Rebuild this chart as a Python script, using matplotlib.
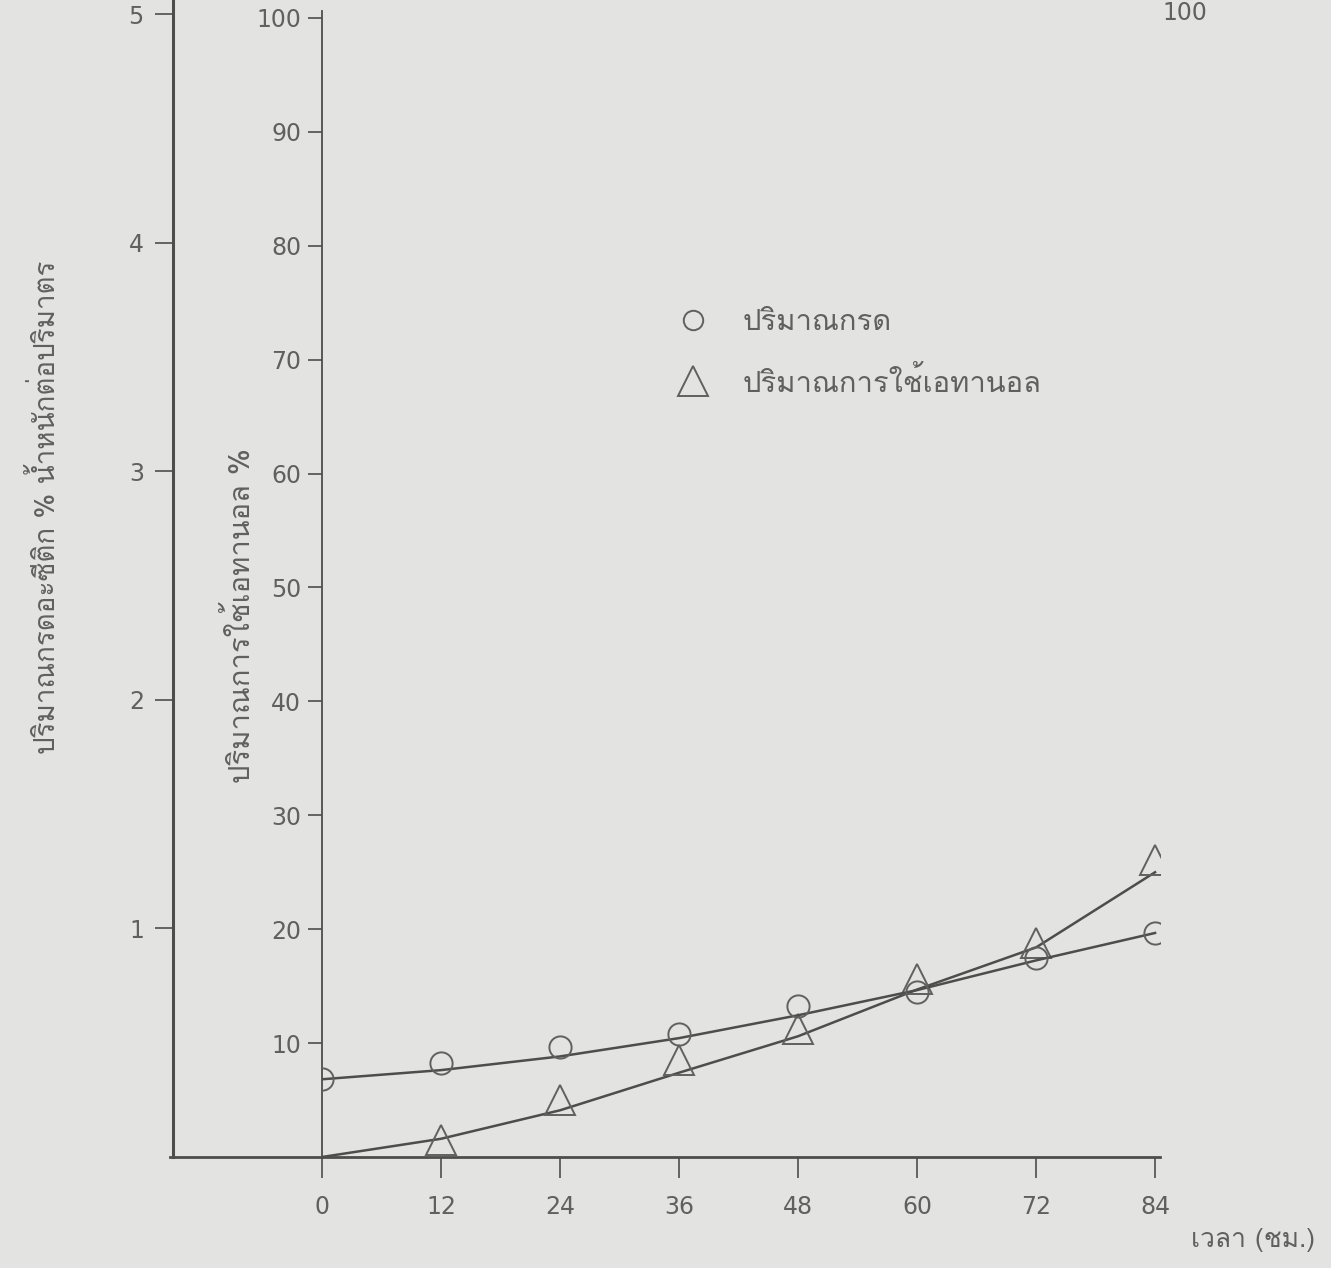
import matplotlib
matplotlib.use("Agg")
import matplotlib.pyplot as plt
from matplotlib import font_manager as fm
from matplotlib.ft2font import FT2Font
from matplotlib.lines import Line2D

# data
hours = [0, 12, 24, 36, 48, 60, 72, 84]
acid = [0.34, 0.41, 0.48, 0.54, 0.66, 0.72, 0.87, 0.98]          # % w/v
acid_fit = [0.34, 0.38, 0.44, 0.52, 0.62, 0.73, 0.86, 0.98]
eth_hours = [12, 24, 36, 48, 60, 72, 84]
ethanol = [1.5, 5.0, 8.5, 11.2, 15.6, 18.8, 26.1]                # %
ethanol_fit = [0.0, 1.6, 4.1, 7.4, 10.6, 14.7, 18.4, 25.0]

acid_ticks = [1, 2, 3, 4, 5]
eth_ticks = [10, 20, 30, 40, 50, 60, 70, 80, 90, 100]

PAPER = "#e3e3e1"
INK = "#4d4d4d"
TEXT = "#606060"


def thai_font():
    prefer = ["Tlwg Typewriter", "Loma", "Norasi", "Garuda", "Kinnari",
              "Noto Sans Thai", "Noto Serif Thai", "Sarabun"]
    found = []
    for f in fm.fontManager.ttflist:
        try:
            if 0x0E01 in FT2Font(f.fname).get_charmap():
                found.append(f.name)
        except Exception:
            pass
    for p in prefer:
        if p in found:
            return p
    return found[0] if found else "DejaVu Sans"


THAI = thai_font()

fig = plt.figure(figsize=(13.31, 12.68), dpi=100)
fig.patch.set_facecolor(PAPER)

W, H = 1331, 1268
ax = fig.add_axes([322 / W, 1 - 1157 / H, (1160 - 322) / W, (1157 - 11) / H])
ax.patch.set_alpha(0)
ax.set_xlim(0, 84.5)
ax.set_ylim(0, 100 * (1157 - 11) / (1157 - 18))

for s in ("top", "right"):
    ax.spines[s].set_visible(False)
ax.spines["left"].set_color(INK)
ax.spines["left"].set_linewidth(1.3)
ax.spines["bottom"].set_color(INK)
ax.spines["bottom"].set_linewidth(2.0)

ax.set_xticks(hours)
ax.set_yticks(eth_ticks)
ax.tick_params(axis="x", direction="out", length=15, width=1.2, pad=12,
               colors=INK, labelcolor=TEXT, labelsize=17)
ax.tick_params(axis="y", direction="out", length=10, width=1.2, pad=5,
               colors=INK, labelcolor=TEXT, labelsize=17)

# extend x axis line left to the outer axis
ax.add_line(Line2D([-(322 - 170) / 838, 0], [0, 0], transform=ax.transAxes,
                   color=INK, lw=2.0, clip_on=False))

# outer acid axis
ax2 = ax.twinx()
ax2.set_ylim(0, 5 * (1157 - 11) / (1157 - 14))
ax2.spines["right"].set_visible(False)
ax2.spines["top"].set_visible(False)
ax2.spines["bottom"].set_visible(False)
ax2.spines["left"].set_visible(True)
ax2.spines["left"].set_position(("axes", -(322 - 173) / 838))
ax2.spines["left"].set_color(INK)
ax2.spines["left"].set_linewidth(2.2)
ax2.spines["left"].set_bounds(0, 5.2)
ax2.yaxis.set_ticks_position("left")
ax2.yaxis.set_label_position("left")
ax2.set_yticks(acid_ticks)
ax2.tick_params(axis="y", direction="out", length=13, width=1.2, pad=8,
                colors=INK, labelcolor=TEXT, labelsize=17)

# fitted curves
ax.plot(hours, ethanol_fit, color=INK, lw=1.8, zorder=2)
ax2.plot(hours, acid_fit, color=INK, lw=1.8, zorder=2)

# measured points
h_acid, = ax2.plot(hours, acid, linestyle="none", marker="o", ms=16,
                   mfc="none", mec=TEXT, mew=1.4, zorder=3,
                   label="ปริมาณกรด")
h_eth, = ax.plot(eth_hours, ethanol, linestyle="none", marker="^", ms=21,
                 mfc="none", mec=TEXT, mew=1.4, zorder=3,
                 label="ปริมาณการใช้เอทานอล")

leg = fig.legend(handles=[h_acid, h_eth], loc="upper left",
                 bbox_to_anchor=(646 / W, 1 - 282 / H), frameon=False,
                 prop={"family": THAI, "size": 21}, labelspacing=1.04,
                 handlelength=1.4, handletextpad=1.0, labelcolor=TEXT)
leg.legend_handles[0].set_markersize(14)

# axis labels
fig.text(45 / W, 1 - 507 / H, "ปริมาณกรดอะซีติก % น้ำหนักต่อปริมาตร",
         rotation=90, ha="center", va="center", fontsize=20,
         family=THAI, color=TEXT)
fig.text(240 / W, 1 - 616 / H, "ปริมาณการใช้เอทานอล %",
         rotation=90, ha="center", va="center", fontsize=21,
         family=THAI, color=TEXT)
fig.text(1315 / W, 1 - 1240 / H, "เวลา (ชม.)", ha="right", va="center",
         fontsize=19, family=THAI, color=TEXT)

# page number at the top edge of the scan
fig.text(1185 / W, 1 - 1 / H, "100", ha="center", va="top",
         fontsize=17, color=TEXT)

fig.savefig("out.png", dpi=100, facecolor=PAPER)
